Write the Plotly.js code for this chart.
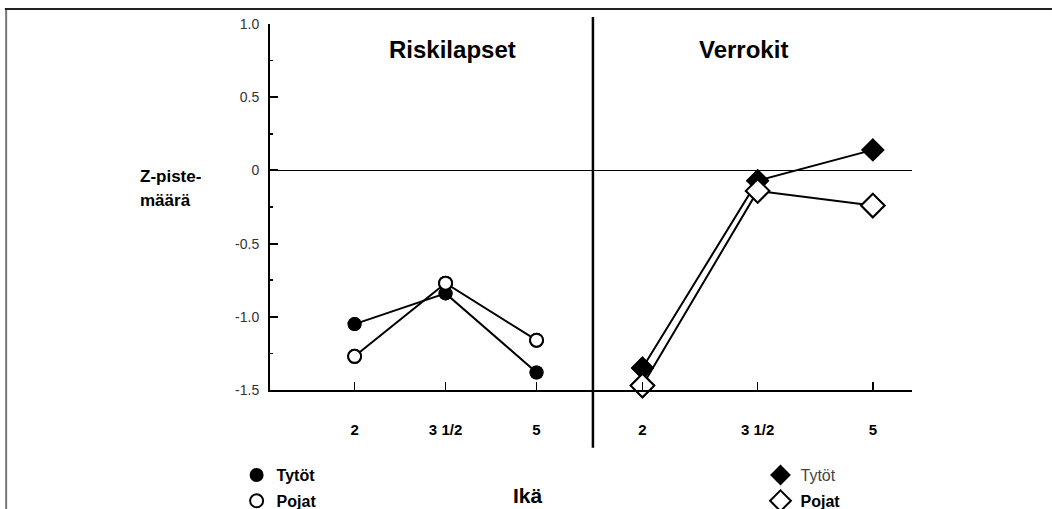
<!DOCTYPE html>
<html>
<head>
<meta charset="utf-8">
<script src="https://cdn.plot.ly/plotly-3.0.1.min.js"></script>
<style>html,body{margin:0;padding:0;background:#fff;}#chart{width:1052px;height:509px;}</style>
</head>
<body>
<div id="chart"></div>
<script>
// Data
const ages = ["2", "3 1/2", "5"];
const riskiTytot = [-1.05, -0.84, -1.38];
const riskiPojat = [-1.27, -0.77, -1.16];
const verrokitTytot = [-1.35, -0.07, 0.14];
const verrokitPojat = [-1.47, -0.14, -0.24];
const yTickVals = [1.0, 0.5, 0, -0.5, -1.0, -1.5];
const yTickText = ["1.0", "0.5", "0", "-0.5", "-1.0", "-1.5"];

const FONT = "Liberation Sans, Arial, sans-serif";
const lineStyle = {color: "black", width: 2};

const traces = [
  // lines + markers (no legend)
  {x: ages, y: riskiPojat, xaxis: "x", yaxis: "y", mode: "lines+markers", showlegend: false, cliponaxis: false,
   line: lineStyle, marker: {symbol: "circle", size: 13, color: "white", line: {color: "black", width: 2}}},
  {x: ages, y: riskiTytot, xaxis: "x", yaxis: "y", mode: "lines+markers", showlegend: false, cliponaxis: false,
   line: lineStyle, marker: {symbol: "circle", size: 14, color: "black"}},
  {x: ages, y: verrokitPojat, xaxis: "x2", yaxis: "y", mode: "lines+markers", showlegend: false, cliponaxis: false,
   line: lineStyle, marker: {symbol: "diamond", size: 18, color: "white", line: {color: "black", width: 2}}},
  {x: ages, y: verrokitTytot, xaxis: "x2", yaxis: "y", mode: "lines+markers", showlegend: false, cliponaxis: false,
   line: lineStyle, marker: {symbol: "diamond", size: 18, color: "black"}},
  // legend entries (markers only)
  {x: ages, y: riskiTytot, xaxis: "x", yaxis: "y", mode: "markers", name: "Tytöt", legend: "legend", legendgroup: "a", cliponaxis: false,
   marker: {symbol: "circle", size: 14, color: "black"}},
  {x: ages, y: riskiPojat, xaxis: "x", yaxis: "y", mode: "markers", name: "Pojat", legend: "legend", legendgroup: "b", cliponaxis: false,
   marker: {symbol: "circle", size: 13, color: "white", line: {color: "black", width: 2}}},
  {x: ages, y: verrokitTytot, xaxis: "x2", yaxis: "y", mode: "markers", name: "<span style='color:#444'>Tytöt</span>", legend: "legend2", legendgroup: "c", cliponaxis: false,
   marker: {symbol: "diamond", size: 18, color: "black"}},
  {x: ages, y: verrokitPojat, xaxis: "x2", yaxis: "y", mode: "markers", name: "<b>Pojat</b>", legend: "legend2", legendgroup: "d", cliponaxis: false,
   marker: {symbol: "diamond", size: 18, color: "white", line: {color: "black", width: 2}}}
];

const xCommon = {
  type: "category", categoryorder: "array", categoryarray: ages,
  showline: true, linecolor: "black", linewidth: 2,
  ticks: "inside", ticklen: 8, tickwidth: 1.5, tickcolor: "black",
  ticklabelstandoff: 25,
  tickfont: {family: FONT, size: 15, weight: "bold", color: "black"},
  showgrid: false, zeroline: false, anchor: "y", fixedrange: true, automargin: false
};

const layout = {
  width: 1052, height: 509,
  margin: {l: 270, r: 140, t: 24, b: 119, autoexpand: false},
  paper_bgcolor: "white", plot_bgcolor: "white",
  font: {family: FONT, color: "black"},
  xaxis: Object.assign({}, xCommon, {domain: [0, 0.503], range: [-0.93, 2.62]}),
  xaxis2: Object.assign({}, xCommon, {domain: [0.503, 1], range: [-0.43, 2.34]}),
  yaxis: {
    range: [-1.5, 1.0], tickmode: "array", tickvals: yTickVals, ticktext: yTickText,
    showline: true, linecolor: "black", linewidth: 2,
    ticks: "inside", ticklen: 8, tickwidth: 2, tickcolor: "black",
    minor: {dtick: 0.25, tick0: 0, ticks: "inside", ticklen: 3, tickwidth: 1.5, tickcolor: "black", showgrid: false},
    tickfont: {family: FONT, size: 14, color: "#333"},
    ticklabelstandoff: 6,
    showgrid: false, zeroline: true, zerolinecolor: "black", zerolinewidth: 1.5,
    anchor: "x", fixedrange: true, automargin: false
  },
  legend: {
    x: -0.052, y: -0.186, xanchor: "left", yanchor: "top",
    bgcolor: "rgba(0,0,0,0)", borderwidth: 0,
    traceorder: "grouped", tracegroupgap: 2,
    font: {family: FONT, size: 16, weight: "bold", color: "black"}
  },
  legend2: {
    x: 0.764, y: -0.186, xanchor: "left", yanchor: "top",
    bgcolor: "rgba(0,0,0,0)", borderwidth: 0,
    traceorder: "grouped", tracegroupgap: 2,
    font: {family: FONT, size: 16, color: "black"}
  },
  annotations: [
    {text: "Riskilapset", x: 0.285, y: 0.929, xref: "paper", yref: "paper", xanchor: "center", yanchor: "middle", showarrow: false,
     font: {family: FONT, size: 24, weight: "bold", color: "black"}},
    {text: "Verrokit", x: 0.737, y: 0.929, xref: "paper", yref: "paper", xanchor: "center", yanchor: "middle", showarrow: false,
     font: {family: FONT, size: 24, weight: "bold", color: "black"}},
    {text: "Z-piste-", x: -0.206, y: 0.582, xref: "paper", yref: "paper", xanchor: "left", yanchor: "middle", showarrow: false,
     font: {family: FONT, size: 17, weight: "bold", color: "black"}},
    {text: "määrä", x: -0.206, y: 0.519, xref: "paper", yref: "paper", xanchor: "left", yanchor: "middle", showarrow: false,
     font: {family: FONT, size: 17, weight: "bold", color: "black"}},
    {text: "Ikä", x: 0.402, y: -0.288, xref: "paper", yref: "paper", xanchor: "center", yanchor: "middle", showarrow: false,
     font: {family: FONT, size: 21, weight: "bold", color: "black"}}
  ],
  shapes: [
    {type: "line", xref: "paper", yref: "paper", x0: 0.503, x1: 0.503, y0: -0.158, y1: 1.019,
     line: {color: "black", width: 2.5}},
    {type: "line", xref: "paper", yref: "paper", x0: -0.413, x1: 1.218, y0: 1.041, y1: 1.041,
     line: {color: "#222", width: 2}},
    {type: "line", xref: "paper", yref: "paper", x0: -0.411, x1: -0.411, y0: 1.038, y1: -0.33,
     line: {color: "#777", width: 2}}
  ]
};

Plotly.newPlot("chart", traces, layout, {displayModeBar: false, staticPlot: true});
</script>
</body>
</html>
